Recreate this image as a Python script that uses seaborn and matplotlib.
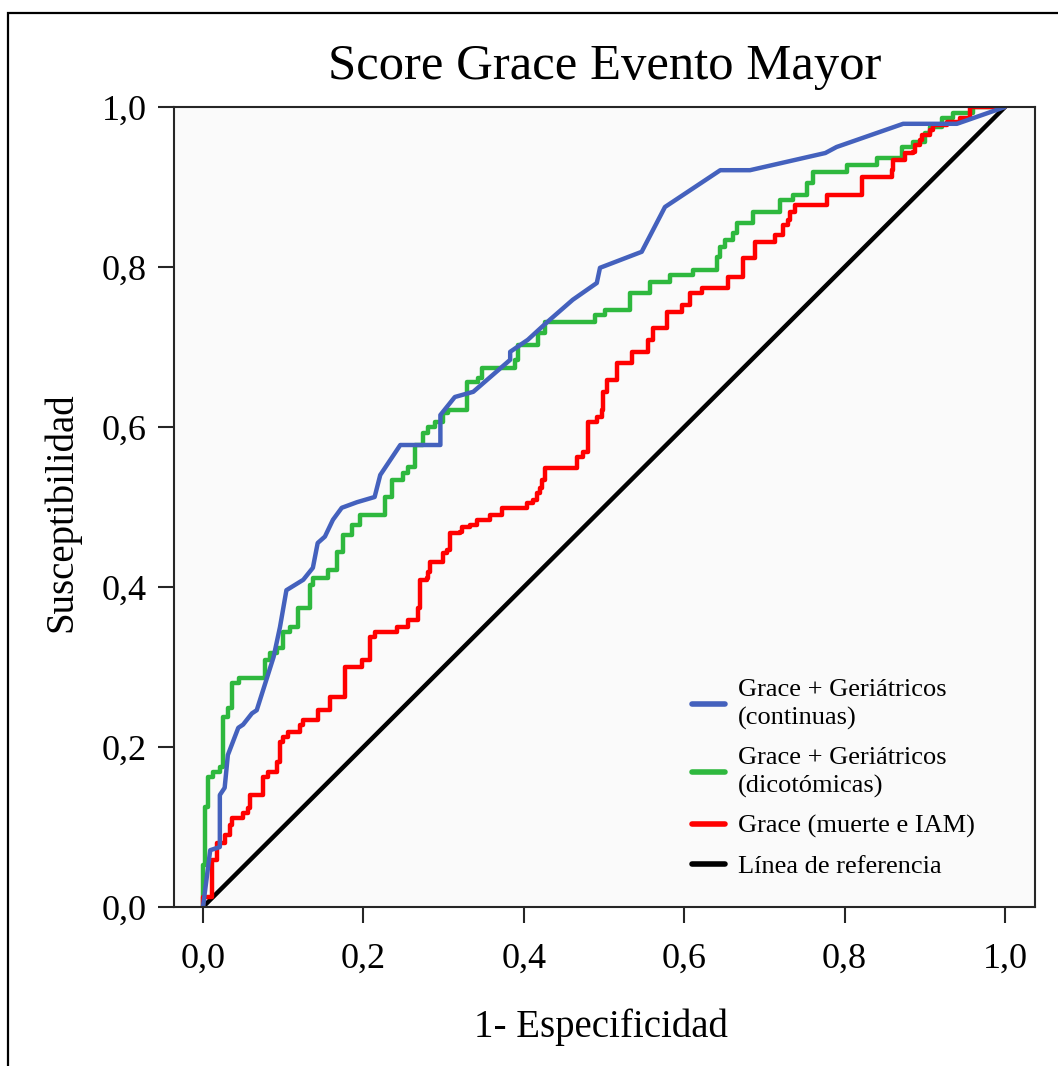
import matplotlib
matplotlib.use("Agg")
import matplotlib.pyplot as plt
import seaborn as sns
from matplotlib.patches import Rectangle

# ROC curve vertices (1 - specificity, sensitivity)
blue_x = [0, 0.009, 0.021, 0.021, 0.027, 0.031, 0.044, 0.05, 0.061, 0.067, 0.079, 0.088,
          0.096, 0.104, 0.125, 0.137, 0.143, 0.152, 0.162, 0.173, 0.192, 0.214, 0.221,
          0.246, 0.296, 0.296, 0.314, 0.337, 0.383, 0.383, 0.405, 0.429, 0.461, 0.491,
          0.495, 0.547, 0.576, 0.645, 0.682, 0.776, 0.79, 0.873, 0.94, 1.0]
blue_y = [0, 0.071, 0.075, 0.14, 0.149, 0.19, 0.224, 0.228, 0.242, 0.246, 0.284, 0.3125,
          0.35, 0.396, 0.409, 0.424, 0.455, 0.463, 0.484, 0.499, 0.506, 0.5125, 0.54,
          0.5775, 0.5775, 0.615, 0.6375, 0.644, 0.684, 0.694, 0.709, 0.731, 0.759, 0.78,
          0.799, 0.819, 0.875, 0.921, 0.921, 0.9425, 0.95, 0.979, 0.979, 1.0]

green_x = [0, 0, 0.0025, 0.0025, 0.006, 0.006, 0.012, 0.021, 0.025, 0.031, 0.036, 0.045,
           0.045, 0.077, 0.077, 0.084, 0.092, 0.1, 0.108, 0.118, 0.133, 0.137, 0.156,
           0.167, 0.175, 0.186, 0.196, 0.227, 0.227, 0.236, 0.249, 0.255, 0.264, 0.274,
           0.28, 0.289, 0.299, 0.305, 0.324, 0.329, 0.343, 0.348, 0.377, 0.389, 0.393,
           0.411, 0.418, 0.426, 0.489, 0.489, 0.501, 0.524, 0.532, 0.557, 0.557, 0.582,
           0.611, 0.611, 0.636, 0.641, 0.645, 0.651, 0.661, 0.666, 0.686, 0.72, 0.72,
           0.736, 0.753, 0.761, 0.8, 0.803, 0.84, 0.84, 0.872, 0.872, 0.885, 0.9, 0.906,
           0.921, 0.935, 0.96, 0.96, 1.0]
green_y = [0, 0.0525, 0.0525, 0.125, 0.125, 0.1625, 0.169, 0.175, 0.2375, 0.249, 0.28,
           0.28, 0.286, 0.286, 0.309, 0.3175, 0.324, 0.344, 0.35, 0.374, 0.4025, 0.411,
           0.421, 0.444, 0.465, 0.4775, 0.49, 0.49, 0.5125, 0.534, 0.5425, 0.55, 0.5775,
           0.5925, 0.6, 0.606, 0.6175, 0.621, 0.621, 0.656, 0.661, 0.674, 0.674, 0.684,
           0.7025, 0.7025, 0.7175, 0.731, 0.731, 0.74, 0.746, 0.746, 0.7675, 0.7675,
           0.781, 0.79, 0.79, 0.796, 0.796, 0.8125, 0.825, 0.834, 0.8425, 0.855, 0.869,
           0.869, 0.884, 0.89, 0.905, 0.919, 0.919, 0.9275, 0.9275, 0.936, 0.936, 0.95,
           0.956, 0.9675, 0.975, 0.986, 0.9925, 0.999, 1.0, 1.0]

red_x = [0, 0, 0.011, 0.011, 0.017, 0.017, 0.025, 0.027, 0.034, 0.036, 0.049, 0.05, 0.056,
         0.059, 0.074, 0.075, 0.081, 0.09, 0.092, 0.096, 0.1, 0.106, 0.117, 0.121, 0.125,
         0.142, 0.143, 0.156, 0.158, 0.175, 0.177, 0.196, 0.198, 0.208, 0.214, 0.239,
         0.242, 0.254, 0.256, 0.267, 0.268, 0.271, 0.279, 0.281, 0.283, 0.298, 0.299,
         0.304, 0.308, 0.32, 0.323, 0.333, 0.342, 0.358, 0.373, 0.401, 0.404, 0.411,
         0.416, 0.42, 0.423, 0.426, 0.46, 0.466, 0.474, 0.48, 0.491, 0.4975, 0.499,
         0.504, 0.514, 0.516, 0.532, 0.535, 0.553, 0.555, 0.561, 0.576, 0.579, 0.595,
         0.597, 0.607, 0.607, 0.622, 0.653, 0.655, 0.672, 0.673, 0.688, 0.688, 0.711,
         0.713, 0.722, 0.723, 0.729, 0.732, 0.738, 0.778, 0.778, 0.822, 0.822, 0.854,
         0.859, 0.86, 0.875, 0.875, 0.885, 0.888, 0.894, 0.896, 0.906, 0.91, 0.928,
         0.944, 0.956, 0.956, 1.0]
red_y = [0, 0.0125, 0.0125, 0.059, 0.059, 0.08, 0.08, 0.09, 0.1025, 0.111, 0.111, 0.1175,
         0.124, 0.14, 0.14, 0.1625, 0.169, 0.169, 0.181, 0.206, 0.2125, 0.219, 0.219,
         0.2275, 0.234, 0.234, 0.246, 0.246, 0.2625, 0.2625, 0.3, 0.3, 0.309, 0.3375,
         0.344, 0.344, 0.35, 0.35, 0.359, 0.359, 0.374, 0.409, 0.411, 0.419, 0.431, 0.431,
         0.4425, 0.446, 0.4675, 0.469, 0.475, 0.4775, 0.484, 0.49, 0.499, 0.499, 0.505,
         0.509, 0.5175, 0.524, 0.534, 0.549, 0.549, 0.5625, 0.569, 0.606, 0.6125, 0.621,
         0.644, 0.659, 0.659, 0.68, 0.68, 0.694, 0.694, 0.709, 0.724, 0.724, 0.744, 0.744,
         0.7525, 0.7525, 0.7675, 0.774, 0.774, 0.7875, 0.7875, 0.811, 0.811, 0.831, 0.831,
         0.84, 0.84, 0.8525, 0.859, 0.869, 0.8775, 0.8775, 0.89, 0.89, 0.9125, 0.9125,
         0.921, 0.934, 0.934, 0.9425, 0.944, 0.9525, 0.959, 0.965, 0.971, 0.9775, 0.981,
         0.986, 0.99, 1.0, 1.0]

ref_x = [0, 1]
ref_y = [0, 1]

series_labels = ["Grace + Geriátricos\n(continuas)",
                 "Grace + Geriátricos\n(dicotómicas)",
                 "Grace (muerte e IAM)",
                 "Línea de referencia"]
tick_values = [0.0, 0.2, 0.4, 0.6, 0.8, 1.0]
tick_labels = ["0,0", "0,2", "0,4", "0,6", "0,8", "1,0"]

sns.set_theme(style="white")
plt.rcParams["font.family"] = ["Liberation Serif", "DejaVu Serif"]
plt.rcParams["text.color"] = "black"

W, H = 1058, 1066
fig = plt.figure(figsize=(W / 100, H / 100), dpi=100)
fig.patch.set_facecolor("white")
ax = fig.add_axes([174 / W, 1 - 907 / H, (1035 - 174) / W, 800 / H])
ax.set_facecolor("#fafafa")

lw = 3.2
h_ref = sns.lineplot(x=ref_x, y=ref_y, ax=ax, color="black", lw=lw,
                     sort=False, estimator=None).lines[-1]
h_green = sns.lineplot(x=green_x, y=green_y, ax=ax, color="#2eb83e", lw=lw,
                       sort=False, estimator=None, drawstyle="steps-post").lines[-1]
h_red = sns.lineplot(x=red_x, y=red_y, ax=ax, color="#ff0000", lw=lw,
                     sort=False, estimator=None, drawstyle="steps-post").lines[-1]
h_blue = sns.lineplot(x=blue_x, y=blue_y, ax=ax, color="#4461bd", lw=lw,
                      sort=False, estimator=None).lines[-1]

ax.set_xlim((174 - 203) / 802, (1035 - 203) / 802)
ax.set_ylim(0, 1)
ax.set_xticks(tick_values)
ax.set_xticklabels(tick_labels)
ax.set_yticks(tick_values)
ax.set_yticklabels(tick_labels)

for s in ax.spines.values():
    s.set_visible(True)
    s.set_color("#262626")
    s.set_linewidth(1.5)
ax.tick_params(axis="both", bottom=True, left=True, direction="out", length=11.5,
               width=1.5, color="#262626", labelsize=26, labelcolor="black")
ax.tick_params(axis="x", pad=14)
ax.tick_params(axis="y", pad=8)

ax.set_title("Score Grace Evento Mayor", fontsize=36.5, pad=20, color="black")
ax.set_xlabel("1- Especificidad", fontsize=28, color="black")
ax.set_ylabel("Susceptibilidad", fontsize=28, color="black")
ax.xaxis.set_label_coords(0.496, -0.127)
ax.yaxis.set_label_coords(-0.109, 0.494)

leg = ax.legend(handles=[h_blue, h_green, h_red, h_ref], labels=series_labels,
                loc="upper left", bbox_to_anchor=((692 - 174) / 861, (907 - 679) / 800),
                frameon=False, fontsize=19, handlelength=1.25, handletextpad=0.5,
                labelspacing=0.62, borderpad=0, borderaxespad=0, labelcolor="black")
for t in leg.get_texts():
    t.set_linespacing(1.35)
for hl in leg.get_lines():
    hl.set_linewidth(4.0)

# outer frame line along the left and top edges
fig.patches.append(Rectangle((8 / W, -0.1), 1.2, 1.1 - 13 / H, transform=fig.transFigure,
                             fill=False, edgecolor="black", linewidth=1.6))

fig.savefig("out.png", dpi=100)
